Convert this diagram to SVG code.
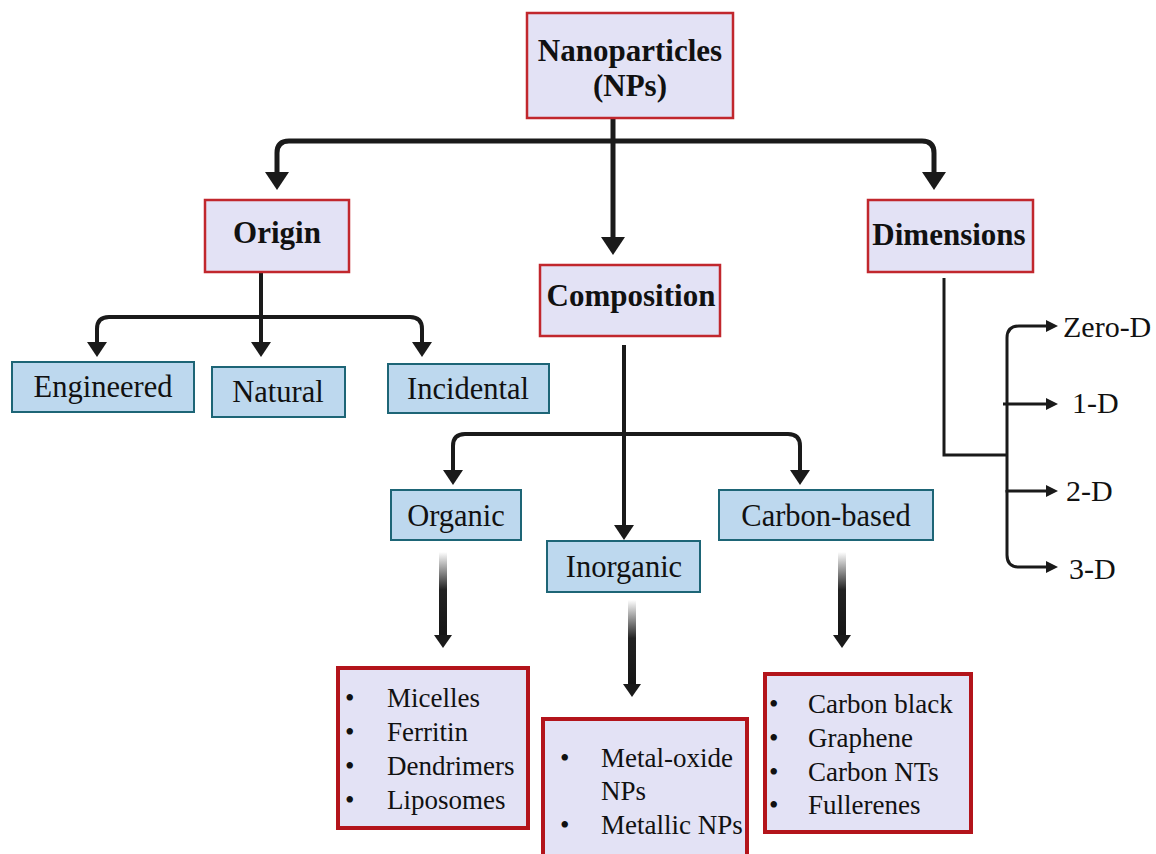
<svg xmlns="http://www.w3.org/2000/svg" width="1156" height="854" viewBox="0 0 1156 854">
<style>
.main rect{fill:#e3e2f5;stroke:#c1272d;stroke-width:2.5}
.list rect{fill:#e3e2f5;stroke:#b3141b;stroke-width:4}
.sub rect{fill:#bdd8ee;stroke:#1d6576;stroke-width:2}
text{font-family:"Liberation Serif","Times New Roman",serif;fill:#111}
.hd{font-weight:bold;font-size:31px;text-anchor:middle}
.lb{font-size:30.5px;text-anchor:middle}
.li{font-size:27px}
.dl{font-size:30px}
.c5{fill:none;stroke:#1a1a1a;stroke-width:5}
.c4{fill:none;stroke:#1a1a1a;stroke-width:4}
.c3{fill:none;stroke:#1a1a1a;stroke-width:3}
.head{fill:#1a1a1a}
</style>
<defs>
<marker id="aL" markerUnits="userSpaceOnUse" markerWidth="18" markerHeight="24" refX="0" refY="12" orient="auto"><path d="M0,0 L18,12 L0,24 z" fill="#1a1a1a"/></marker>
<marker id="aM" markerUnits="userSpaceOnUse" markerWidth="15" markerHeight="20" refX="0" refY="10" orient="auto"><path d="M0,0 L15,10 L0,20 z" fill="#1a1a1a"/></marker>
<marker id="aS" markerUnits="userSpaceOnUse" markerWidth="12" markerHeight="12" refX="0" refY="6" orient="auto"><path d="M0,0 L12,6 L0,12 z" fill="#1a1a1a"/></marker>
<linearGradient id="fade" x1="0" y1="0" x2="0" y2="1">
<stop offset="0" stop-color="#ffffff"/>
<stop offset="0.45" stop-color="#222"/>
<stop offset="1" stop-color="#151515"/>
</linearGradient>
</defs>
<rect width="1156" height="854" fill="#ffffff"/>

<g id="connectors">
<path class="c5" d="M613,118 V237" marker-end="url(#aL)"/>
<path class="c5" d="M613,141 H289 Q277,141 277,153 V172" marker-end="url(#aL)"/>
<path class="c5" d="M613,141 H922 Q934,141 934,153 V172" marker-end="url(#aL)"/>
<path class="c4" d="M261,272 V342" marker-end="url(#aM)"/>
<path class="c4" d="M261,317 H109 Q97,317 97,329 V342" marker-end="url(#aM)"/>
<path class="c4" d="M261,317 H410 Q422,317 422,329 V342" marker-end="url(#aM)"/>
<path class="c4" d="M624,345 V525" marker-end="url(#aM)"/>
<path class="c4" d="M624,434 H465 Q453,434 453,446 V470" marker-end="url(#aM)"/>
<path class="c4" d="M624,434 H788 Q800,434 800,446 V470" marker-end="url(#aM)"/>
<rect x="439" y="552" width="8" height="84" fill="url(#fade)"/>
<polygon class="head" points="434,635 452,635 443,648"/>
<rect x="628" y="600" width="8" height="85" fill="url(#fade)"/>
<polygon class="head" points="623,684 641,684 632,697"/>
<rect x="838" y="552" width="8" height="84" fill="url(#fade)"/>
<polygon class="head" points="833,635 851,635 842,648"/>
<path class="c3" d="M944,278 V455 H1007"/>
<path class="c3" d="M1007,455 V338 Q1007,326 1019,326 H1046" marker-end="url(#aS)"/>
<path class="c3" d="M1003,404 H1046" marker-end="url(#aS)"/>
<path class="c3" d="M1007,455 V491 H1046" marker-end="url(#aS)"/>
<path class="c3" d="M1007,490 V555 Q1007,567 1019,567 H1046" marker-end="url(#aS)"/>
</g>

<g id="nanoparticles" class="main"><rect x="527" y="13" width="206" height="105"/><text class="hd" x="630" y="61">Nanoparticles</text><text class="hd" x="630" y="96">(NPs)</text></g>
<g id="origin" class="main"><rect x="205" y="200" width="144" height="72"/><text class="hd" x="277" y="243">Origin</text></g>
<g id="composition" class="main"><rect x="540" y="265" width="180" height="71"/><text class="hd" x="631" y="306">Composition</text></g>
<g id="dimensions" class="main"><rect x="868" y="200" width="165" height="72"/><text class="hd" x="949" y="245">Dimensions</text></g>

<g id="engineered" class="sub"><rect x="12" y="362" width="182" height="50"/><text class="lb" x="103" y="397">Engineered</text></g>
<g id="natural" class="sub"><rect x="212" y="367" width="133" height="50"/><text class="lb" x="278" y="402">Natural</text></g>
<g id="incidental" class="sub"><rect x="388" y="364" width="161" height="49"/><text class="lb" x="468" y="399">Incidental</text></g>
<g id="organic" class="sub"><rect x="391" y="490" width="130" height="50"/><text class="lb" x="456" y="526">Organic</text></g>
<g id="inorganic" class="sub"><rect x="547" y="541" width="153" height="51"/><text class="lb" x="624" y="577">Inorganic</text></g>
<g id="carbon-based" class="sub"><rect x="719" y="490" width="214" height="50"/><text class="lb" x="826" y="526">Carbon-based</text></g>

<g id="organic-list" class="list"><rect x="338" y="668" width="190" height="160"/>
<text class="li" x="345" y="707">•</text><text class="li" x="387" y="707">Micelles</text>
<text class="li" x="345" y="741">•</text><text class="li" x="387" y="741">Ferritin</text>
<text class="li" x="345" y="775">•</text><text class="li" x="387" y="775">Dendrimers</text>
<text class="li" x="345" y="809">•</text><text class="li" x="387" y="809">Liposomes</text></g>
<g id="inorganic-list" class="list"><rect x="543" y="719" width="204" height="140"/>
<text class="li" x="560" y="767">•</text><text class="li" x="601" y="767">Metal-oxide</text>
<text class="li" x="601" y="800">NPs</text>
<text class="li" x="560" y="834">•</text><text class="li" x="601" y="834">Metallic NPs</text></g>
<g id="carbon-list" class="list"><rect x="765" y="674" width="206" height="158"/>
<text class="li" x="769" y="713">•</text><text class="li" x="808" y="713">Carbon black</text>
<text class="li" x="769" y="747">•</text><text class="li" x="808" y="747">Graphene</text>
<text class="li" x="769" y="781">•</text><text class="li" x="808" y="781">Carbon NTs</text>
<text class="li" x="769" y="814">•</text><text class="li" x="808" y="814">Fullerenes</text></g>

<g id="zero-d"><text class="dl" x="1063" y="337">Zero-D</text></g>
<g id="one-d"><text class="dl" x="1072" y="413">1-D</text></g>
<g id="two-d"><text class="dl" x="1066" y="501">2-D</text></g>
<g id="three-d"><text class="dl" x="1069" y="579">3-D</text></g>
</svg>
